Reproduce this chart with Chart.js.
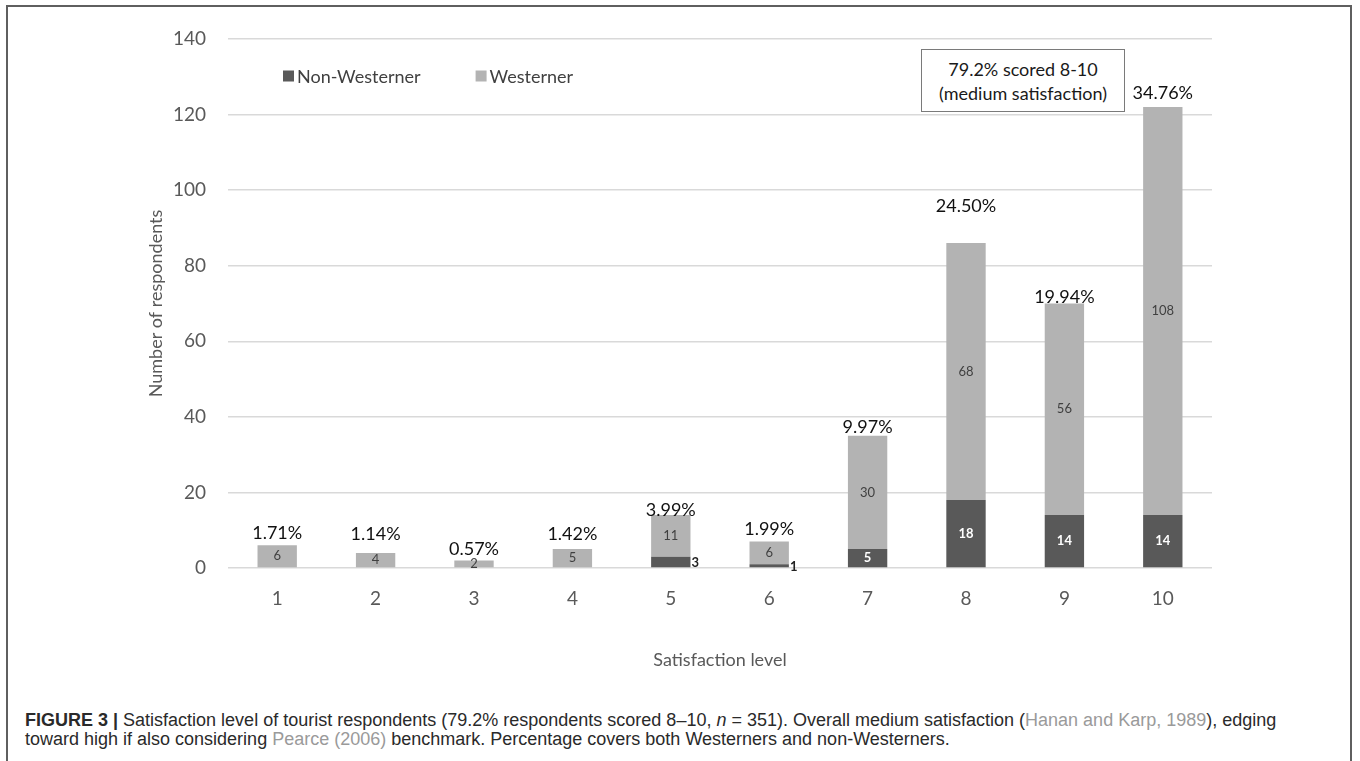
<!DOCTYPE html>
<html>
<head>
<meta charset="utf-8">
<script src="https://cdn.jsdelivr.net/npm/chart.js@4.4.1/dist/chart.umd.min.js"></script>
<style>
  html, body { margin: 0; padding: 0; background: #fff; }
  body { width: 1360px; height: 761px; position: relative; overflow: hidden; }
  #frame {
    position: absolute; left: 6px; top: 5px; width: 1346px; height: 800px;
    border: 2px solid #5f5f5f; box-sizing: border-box;
  }
  #chart { position: absolute; left: 0; top: 0; }
  #note {
    position: absolute; left: 921px; top: 49px; width: 204px; height: 63px;
    box-sizing: border-box; border: 1px solid #7a7a7a; background: #fff;
    font-family: Lato, sans-serif; font-size: 18px; line-height: 24px;
    color: #1a1a1a; text-align: center; padding-top: 7px;
  }
  #caption {
    position: absolute; left: 25px; top: 711px; margin: 0;
    font-family: "Liberation Sans Narrow", "Liberation Sans", sans-serif;
    font-size: 18px; line-height: 19px; color: #2a2a2a; white-space: nowrap;
  }
  #caption b { font-weight: bold; }
  #caption .ref { color: #9a9a9a; }
</style>
</head>
<body>
<div id="frame"></div>
<canvas id="chart" width="1360" height="690"></canvas>
<div id="note">79.2% scored 8-10<br>(medium satisfaction)</div>
<p id="caption"><b>FIGURE 3 |</b> Satisfaction level of tourist respondents (79.2% respondents scored 8–10, <i>n</i> = 351). Overall medium satisfaction (<span class="ref">Hanan and Karp, 1989</span>), edging<br>toward high if also considering <span class="ref">Pearce (2006)</span> benchmark. Percentage covers both Westerners and non-Westerners.</p>

<script>
// satisfaction levels 1..10
const levels = ["1", "2", "3", "4", "5", "6", "7", "8", "9", "10"];
const nonWestern = [0, 0, 0, 0, 3, 1, 5, 18, 14, 14];
const western = [6, 4, 2, 5, 11, 6, 30, 68, 56, 108];
const yTicks = [0, 20, 40, 60, 80, 100, 120, 140];

const DARK = "#595959";
const LIGHT = "#b3b3b3";

Chart.defaults.font.family = "Lato, sans-serif";

// how far each percentage sits above its bar (px)
const pctLift = [12, 19, 11, 15, 5, 12, 9, 37, 6, 14];

const barLabels = {
  id: "barLabels",
  afterDatasetsDraw(chart) {
    const ctx = chart.ctx;
    ctx.save();
    ctx.textAlign = "center";
    ctx.textBaseline = "middle";

    // counts inside each segment
    chart.data.datasets.forEach((ds, di) => {
      const meta = chart.getDatasetMeta(di);
      meta.data.forEach((bar, i) => {
        const v = ds.data[i];
        if (!v) return;
        const h = bar.base - bar.y;
        const cy = (bar.y + bar.base) / 2;
        if (di === 0) {
          ctx.font = "bold 13px Lato";
          if (h < 14) {
            // too thin to hold its number: put it beside the bar
            ctx.fillStyle = "#222";
            ctx.textAlign = "left";
            ctx.fillText(v, bar.x + bar.width / 2 + 1, cy + 1);
            ctx.textAlign = "center";
          } else {
            ctx.fillStyle = "#fff";
            ctx.fillText(v, bar.x, cy);
          }
        } else {
          ctx.font = "13px Lato";
          ctx.fillStyle = "#404040";
          ctx.fillText(v, bar.x, cy);
        }
      });
    });

    // share of all respondents above each stack
    const total = nonWestern.reduce((a, b) => a + b, 0) + western.reduce((a, b) => a + b, 0);
    const top = chart.getDatasetMeta(1);
    ctx.font = "18px Lato";
    ctx.fillStyle = "#111";
    top.data.forEach((bar, i) => {
      const n = nonWestern[i] + western[i];
      const pct = (n / total * 100).toFixed(2) + "%";
      ctx.fillText(pct, bar.x, bar.y - pctLift[i]);
    });
    ctx.restore();
  }
};

// legend drawn inside the plot, above the 120 gridline
const innerLegend = {
  id: "innerLegend",
  afterDraw(chart) {
    const ctx = chart.ctx;
    const area = chart.chartArea;
    let x = area.left + 55;
    const y = 76;
    ctx.save();
    ctx.font = "18px Lato";
    ctx.textBaseline = "middle";
    ctx.textAlign = "left";
    chart.data.datasets.forEach((ds) => {
      ctx.fillStyle = ds.backgroundColor;
      ctx.fillRect(x, y - 5.5, 11, 11);
      ctx.fillStyle = "#404040";
      ctx.fillText(ds.label, x + 14, y + 1);
      x += 14 + ctx.measureText(ds.label).width + 55;
    });
    ctx.restore();
  }
};

new Chart(document.getElementById("chart"), {
  type: "bar",
  data: {
    labels: levels,
    datasets: [
      { label: "Non-Westerner", data: nonWestern, backgroundColor: DARK },
      { label: "Westerner", data: western, backgroundColor: LIGHT }
    ]
  },
  options: {
    responsive: false,
    animation: false,
    layout: { padding: { left: 140, right: 148, top: 39, bottom: 0 } },
    datasets: {
      bar: { categoryPercentage: 1, barPercentage: 0.4 }
    },
    plugins: {
      legend: { display: false },
      tooltip: { enabled: false }
    },
    scales: {
      x: {
        stacked: true,
        grid: { display: false },
        border: { display: false },
        ticks: { color: "#595959", font: { size: 19 }, padding: 11 },
        title: {
          display: true,
          text: "Satisfaction level",
          color: "#595959",
          font: { size: 18 },
          padding: { top: 0, bottom: 19 }
        },
        afterFit(scale) { scale.height = 122; }
      },
      y: {
        stacked: true,
        min: 0,
        max: 140,
        afterBuildTicks(scale) { scale.ticks = yTicks.map(v => ({ value: v })); },
        grid: { color: "#d9d9d9", drawTicks: false, lineWidth: 1.5 },
        border: { display: false },
        ticks: { color: "#595959", font: { size: 19 }, padding: 22 },
        title: {
          display: true,
          text: "Number of respondents",
          color: "#595959",
          font: { size: 18 },
          padding: { top: 5, bottom: 0 }
        },
        afterFit(scale) { scale.width = 88; }
      }
    }
  },
  plugins: [barLabels, innerLegend]
});
</script>
</body>
</html>
